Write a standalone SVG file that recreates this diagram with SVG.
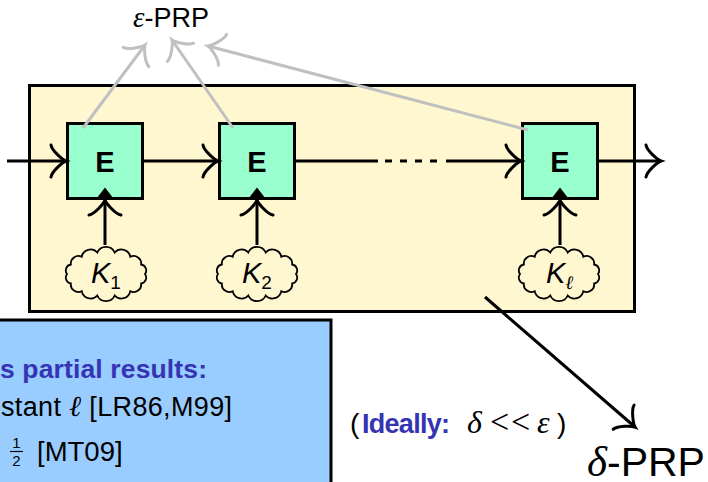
<svg xmlns="http://www.w3.org/2000/svg" width="708" height="482" viewBox="0 0 708 482">
  <style>
    .sans { font-family: "Liberation Sans", Arial, sans-serif; }
    .math { font-family: "Liberation Serif", "Times New Roman", serif; font-style: italic; }
    .frame { fill: #fff7d0; stroke: #000; stroke-width: 3; }
    .cipher { fill: #99ffcf; stroke: #000; stroke-width: 3; }
    .cipher-label { font-family: "Liberation Sans", Arial, sans-serif; font-weight: bold; font-size: 29px; text-anchor: middle; }
    .key-cloud { fill: #fff7d0; stroke: #000; stroke-width: 1.8; }
    .key-label { font-family: "Liberation Sans", Arial, sans-serif; font-style: italic; font-size: 29px; }
    .key-sub { font-size: 19px; }
    .flow { fill: none; stroke: #000; stroke-width: 3; }
    .query { fill: none; stroke: #c0c0c0; stroke-width: 3; }
    .note { fill: #99ccff; stroke: #000; stroke-width: 3; }
    .hl { fill: #3434b4; font-weight: bold; }
  </style>
  <defs>
    <!-- curved "to"-style arrow tips -->
    <marker id="tip" markerUnits="userSpaceOnUse" viewBox="-20 -20 40 40" markerWidth="40" markerHeight="40" refX="0" refY="0" orient="auto" overflow="visible">
      <path d="M-15,-16 C-14,-10 -3,-1 0,0 C-3,1 -14,10 -15,16" fill="none" stroke="#000" stroke-width="3" stroke-linecap="round"/>
    </marker>
    <marker id="tip-gray" markerUnits="userSpaceOnUse" viewBox="-20 -20 40 40" markerWidth="40" markerHeight="40" refX="0" refY="0" orient="auto" overflow="visible">
      <path d="M-15,-16 C-14,-10 -3,-1 0,0 C-3,1 -14,10 -15,16" fill="none" stroke="#c0c0c0" stroke-width="3" stroke-linecap="round"/>
    </marker>
    <!-- scalloped key cloud, centred on the origin -->
    <path id="cloud" d="M39,0 A6,6 0 0 1 35.1,9.5 A7.5,7.5 0 0 1 24.3,17.2 A9,9 0 0 1 8.7,21.5 A9.5,9.5 0 0 1 -8.7,21.5 A9,9 0 0 1 -24.3,17.2 A7.5,7.5 0 0 1 -35.1,9.5 A6,6 0 0 1 -39,0 A6,6 0 0 1 -35.1,-9.5 A7.5,7.5 0 0 1 -24.3,-17.2 A9,9 0 0 1 -8.7,-21.5 A9.5,9.5 0 0 1 8.7,-21.5 A9,9 0 0 1 24.3,-17.2 A7.5,7.5 0 0 1 35.1,-9.5 A6,6 0 0 1 39,0 Z"/>
  </defs>

  <!-- cascade frame -->
  <g id="cascade">
    <rect class="frame" x="29.5" y="85.5" width="605" height="226"/>
  </g>

  <!-- block cipher stages -->
  <g id="E1">
    <rect class="cipher" x="67.5" y="123.5" width="75" height="75"/>
    <text class="cipher-label" x="105" y="172">E</text>
  </g>
  <g id="E2">
    <rect class="cipher" x="219.5" y="123.5" width="75" height="75"/>
    <text class="cipher-label" x="257" y="172">E</text>
  </g>
  <g id="E3">
    <rect class="cipher" x="522.5" y="123.5" width="75" height="75"/>
    <text class="cipher-label" x="560" y="172">E</text>
  </g>

  <!-- independent keys -->
  <g id="K1">
    <use href="#cloud" class="key-cloud" transform="translate(106,274)"/>
    <text class="key-label" x="91" y="283">K<tspan class="key-sub" font-style="normal" y="289">1</tspan></text>
  </g>
  <g id="K2">
    <use href="#cloud" class="key-cloud" transform="translate(257,274)"/>
    <text class="key-label" x="242" y="283">K<tspan class="key-sub" font-style="normal" y="289">2</tspan></text>
  </g>
  <g id="Kl">
    <use href="#cloud" class="key-cloud" transform="translate(559,274)"/>
    <text class="key-label" x="546" y="283">K<tspan class="key-sub" font-family="Liberation Serif, serif" y="289">ℓ</tspan></text>
  </g>

  <!-- security labels -->
  <g id="eps-prp">
    <text class="sans" x="133" y="27" font-size="27"><tspan class="math" font-size="29">ε</tspan>-PRP</text>
  </g>
  <g id="delta-prp">
    <text class="sans" x="587" y="476" font-size="41"><tspan class="math" font-size="43">δ</tspan>-PRP</text>
  </g>
  <g id="ideally">
    <text class="sans" x="350" y="433" font-size="28">(</text>
    <text class="sans hl" x="362" y="433" font-size="27" textLength="88">Ideally:</text>
    <text class="math" x="467" y="433" font-size="32">δ</text>
    <text x="490" y="433" font-family="Liberation Serif, serif" font-size="34">&lt;</text>
    <text x="511" y="433" font-family="Liberation Serif, serif" font-size="34">&lt;</text>
    <text class="math" x="537" y="433" font-size="32">ε</text>
    <text class="sans" x="557" y="433" font-size="28">)</text>
  </g>

  <!-- prior results panel -->
  <g id="results">
    <rect class="note" x="-5" y="320" width="336" height="170"/>
    <text class="sans hl" x="0" y="378" font-size="26.5" textLength="207">s partial results:</text>
    <text class="sans" x="1" y="416" font-size="27" textLength="231">stant <tspan class="math" font-size="29">ℓ</tspan> [LR86,M99]</text>
    <text class="sans" x="16.5" y="448" font-size="15" text-anchor="middle">1</text>
    <line x1="10" y1="451.5" x2="23" y2="451.5" stroke="#000" stroke-width="1.2"/>
    <text class="sans" x="16.5" y="466" font-size="15" text-anchor="middle">2</text>
    <text class="sans" x="37" y="461" font-size="27.5">[MT09]</text>
  </g>

  <!-- connectors -->
  <g id="connectors">
    <line class="flow" x1="7" y1="161" x2="66" y2="161" marker-end="url(#tip)"/>
    <line class="flow" x1="143" y1="161" x2="218" y2="161" marker-end="url(#tip)"/>
    <line class="flow" x1="296" y1="161" x2="378" y2="161"/>
    <line class="flow" x1="385" y1="161" x2="438" y2="161" stroke-dasharray="7 8"/>
    <line class="flow" x1="446" y1="161" x2="521" y2="161" marker-end="url(#tip)"/>
    <line class="flow" x1="599" y1="161" x2="661" y2="161" marker-end="url(#tip)"/>

    <line class="flow" x1="105" y1="245" x2="105" y2="200" marker-end="url(#tip)"/>
    <polygon points="96.5,198.5 105,187.5 113.5,198.5" fill="#000"/>
    <line class="flow" x1="257" y1="245" x2="257" y2="200" marker-end="url(#tip)"/>
    <polygon points="248.5,198.5 257,187.5 265.5,198.5" fill="#000"/>
    <line class="flow" x1="560" y1="245" x2="560" y2="200" marker-end="url(#tip)"/>
    <polygon points="551.5,198.5 560,187.5 568.5,198.5" fill="#000"/>

    <line class="query" x1="83" y1="128" x2="145" y2="45" marker-end="url(#tip-gray)"/>
    <line class="query" x1="233" y1="128" x2="172" y2="40" marker-end="url(#tip-gray)"/>
    <line class="query" x1="528" y1="130" x2="208" y2="46" marker-end="url(#tip-gray)"/>

    <line class="flow" x1="485" y1="297" x2="635" y2="427" marker-end="url(#tip)"/>
  </g>
</svg>
